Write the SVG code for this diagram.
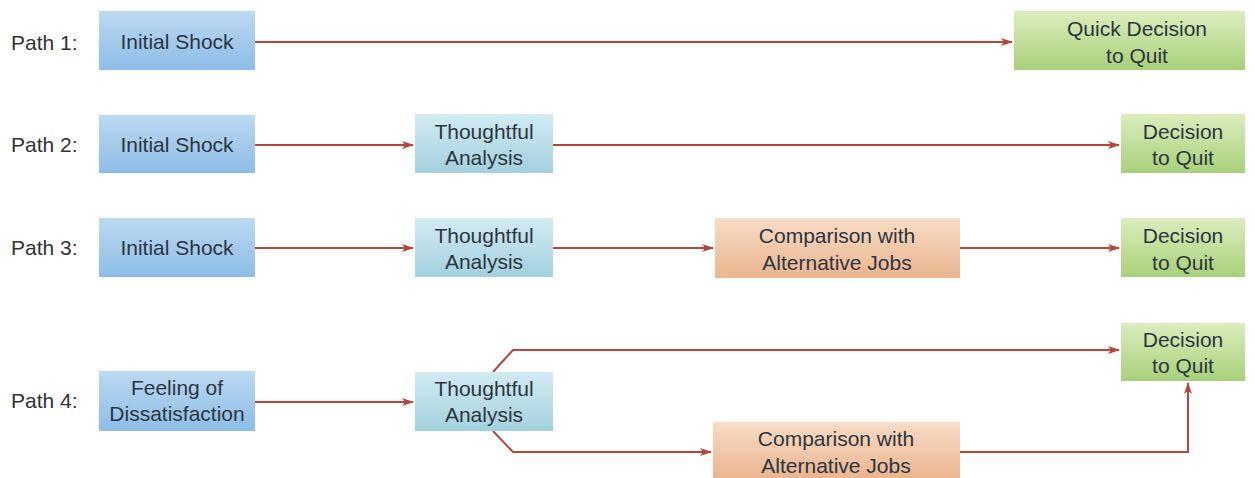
<svg xmlns="http://www.w3.org/2000/svg" width="1255" height="478" viewBox="0 0 1255 478">
<defs>
<linearGradient id="gBlue" x1="0" y1="0" x2="0" y2="1"><stop offset="0" stop-color="#bcd9f1"/><stop offset="1" stop-color="#8dbde6"/></linearGradient>
<linearGradient id="gTeal" x1="0" y1="0" x2="0" y2="1"><stop offset="0" stop-color="#d2ebf2"/><stop offset="1" stop-color="#a3d0de"/></linearGradient>
<linearGradient id="gOrange" x1="0" y1="0" x2="0" y2="1"><stop offset="0" stop-color="#f8dcc6"/><stop offset="1" stop-color="#ebb58f"/></linearGradient>
<linearGradient id="gGreen" x1="0" y1="0" x2="0" y2="1"><stop offset="0" stop-color="#dcedbd"/><stop offset="1" stop-color="#a8d07a"/></linearGradient>
<marker id="ah" markerWidth="12" markerHeight="10" refX="11" refY="5" orient="auto" markerUnits="userSpaceOnUse"><path d="M0,1 L12,5 L0,9 L3,5 Z" fill="#b5463c"/></marker>
</defs>
<style>
text{font-family:"Liberation Sans",Arial,sans-serif;font-size:21px;fill:#2c3640;text-anchor:middle;dominant-baseline:central}
.lbl{text-anchor:start;fill:#333}
.c{fill:none;stroke:#b5463c;stroke-width:2}
</style>
<rect width="1255" height="478" fill="#fff"/>
<g id="labels">
<text class="lbl" x="11" y="42">Path 1:</text>
<text class="lbl" x="11" y="144">Path 2:</text>
<text class="lbl" x="11" y="247">Path 3:</text>
<text class="lbl" x="11" y="400">Path 4:</text>
</g>
<g id="connectors">
<line class="c" x1="255" y1="42" x2="1012" y2="42" marker-end="url(#ah)"/>
<line class="c" x1="255" y1="145" x2="413" y2="145" marker-end="url(#ah)"/>
<line class="c" x1="553" y1="145" x2="1119" y2="145" marker-end="url(#ah)"/>
<line class="c" x1="255" y1="248" x2="413" y2="248" marker-end="url(#ah)"/>
<line class="c" x1="553" y1="248" x2="713" y2="248" marker-end="url(#ah)"/>
<line class="c" x1="960" y1="248" x2="1119" y2="248" marker-end="url(#ah)"/>
<line class="c" x1="255" y1="402" x2="413" y2="402" marker-end="url(#ah)"/>
<polyline class="c" points="493,372 513,350 1119,350" marker-end="url(#ah)"/>
<polyline class="c" points="493,431 513,452 711,452" marker-end="url(#ah)"/>
<polyline class="c" points="960,452 1188,452 1188,383" marker-end="url(#ah)"/>
</g>
<g id="p1-shock"><rect x="99" y="11" width="156" height="59" fill="url(#gBlue)"/><text x="177" y="41">Initial Shock</text></g>
<g id="p1-quit"><rect x="1014" y="11" width="231" height="59" fill="url(#gGreen)"/><text x="1137" y="28">Quick Decision</text><text x="1137" y="55">to Quit</text></g>
<g id="p2-shock"><rect x="99" y="115" width="156" height="58" fill="url(#gBlue)"/><text x="177" y="144">Initial Shock</text></g>
<g id="p2-analysis"><rect x="415" y="114" width="138" height="59" fill="url(#gTeal)"/><text x="484" y="131">Thoughtful</text><text x="484" y="157">Analysis</text></g>
<g id="p2-quit"><rect x="1121" y="114" width="124" height="59" fill="url(#gGreen)"/><text x="1183" y="131">Decision</text><text x="1183" y="157">to Quit</text></g>
<g id="p3-shock"><rect x="99" y="218" width="156" height="59" fill="url(#gBlue)"/><text x="177" y="247">Initial Shock</text></g>
<g id="p3-analysis"><rect x="415" y="218" width="138" height="59" fill="url(#gTeal)"/><text x="484" y="235">Thoughtful</text><text x="484" y="261">Analysis</text></g>
<g id="p3-compare"><rect x="715" y="218" width="245" height="60" fill="url(#gOrange)"/><text x="837" y="235">Comparison with</text><text x="837" y="262">Alternative Jobs</text></g>
<g id="p3-quit"><rect x="1121" y="218" width="124" height="59" fill="url(#gGreen)"/><text x="1183" y="235">Decision</text><text x="1183" y="262">to Quit</text></g>
<g id="p4-feeling"><rect x="99" y="371" width="156" height="60" fill="url(#gBlue)"/><text x="177" y="387">Feeling of</text><text x="177" y="413">Dissatisfaction</text></g>
<g id="p4-analysis"><rect x="415" y="372" width="138" height="59" fill="url(#gTeal)"/><text x="484" y="388">Thoughtful</text><text x="484" y="414">Analysis</text></g>
<g id="p4-compare"><rect x="713" y="422" width="247" height="56" fill="url(#gOrange)"/><text x="836" y="438">Comparison with</text><text x="836" y="465">Alternative Jobs</text></g>
<g id="p4-quit"><rect x="1121" y="323" width="124" height="58" fill="url(#gGreen)"/><text x="1183" y="339">Decision</text><text x="1183" y="365">to Quit</text></g>
</svg>
